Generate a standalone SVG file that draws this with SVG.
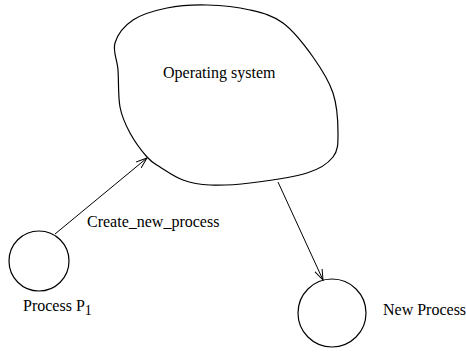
<svg xmlns="http://www.w3.org/2000/svg" width="466" height="353" viewBox="0 0 466 353">
<style>
.shape{fill:none;stroke:#000;stroke-width:1.2}
.conn{fill:none;stroke:#000;stroke-width:1}
.lbl{font-family:"Liberation Serif","Times New Roman",serif;font-size:16px;fill:#000}
</style>
<defs>
<marker id="arr" markerUnits="userSpaceOnUse" markerWidth="14" markerHeight="10" refX="11" refY="4" orient="auto">
<path d="M0,0 L11,4 L0,8" fill="none" stroke="#000" stroke-width="1"/>
</marker>
</defs>
<rect width="466" height="353" fill="#fff"/>
<g id="os">
<path class="shape" d="M115,43 C117.5,34.7 124.3,25.8 133,20 C141.7,14.2 154.7,10.5 167,8 C179.3,5.5 193.2,4.7 207,5 C220.8,5.3 237.3,7 250,10 C262.7,13 272.5,15.2 283,23 C293.5,30.8 304.7,45.3 313,57 C321.3,68.7 328.8,80.3 333,93 C337.2,105.7 338,122.3 338,133 C338,143.7 338.2,150.3 333,157 C327.8,163.7 320.8,168.7 307,173 C293.2,177.3 266.2,181 250,183 C233.8,185 221.2,185.5 210,185 C198.8,184.5 191.3,183 183,180 C174.7,177 166,170.8 160,167 C154,163.2 152,162.7 147,157 C142,151.3 134.5,141.3 130,133 C125.5,124.7 122,117.5 120,107 C118,96.5 118.8,80.7 118,70 C117.2,59.3 112.5,51.3 115,43 Z"/>
<text class="lbl" x="163" y="78">Operating system</text>
</g>
<g id="p1">
<circle class="shape" cx="39" cy="261" r="30"/>
<text class="lbl" x="23" y="311">Process P<tspan font-size="14" dy="4">1</tspan></text>
</g>
<g id="newproc">
<circle class="shape" cx="332" cy="313" r="34"/>
<text class="lbl" x="383" y="315">New Process</text>
</g>
<g id="connectors">
<line class="conn" x1="55" y1="234" x2="147" y2="158" marker-end="url(#arr)"/>
<text class="lbl" x="87" y="227">Create_new_process</text>
<line class="conn" x1="278" y1="182" x2="323" y2="280" marker-end="url(#arr)"/>
</g>
</svg>
